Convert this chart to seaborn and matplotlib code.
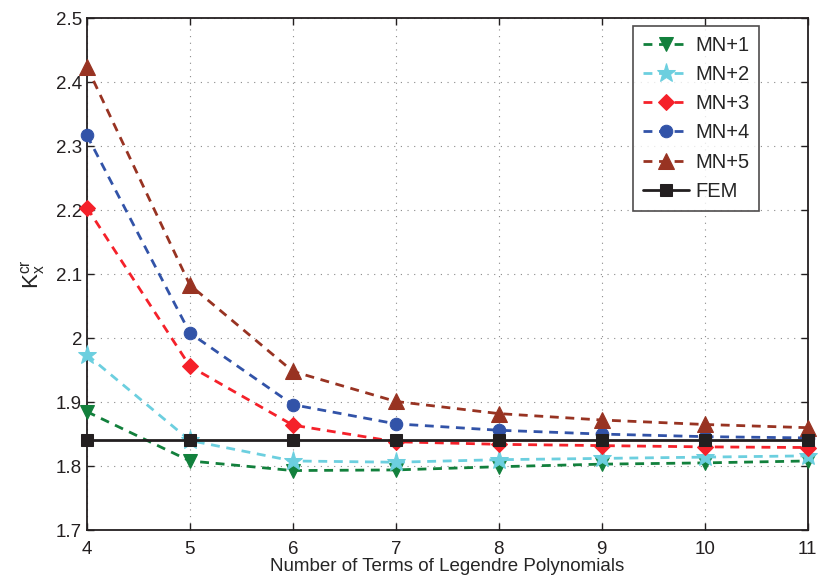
import numpy as np
import pandas as pd
import seaborn as sns
import matplotlib.pyplot as plt

terms = [4, 5, 6, 7, 8, 9, 10, 11]
mn1 = [1.885, 1.808, 1.793, 1.794, 1.799, 1.803, 1.805, 1.808]
mn2 = [1.974, 1.840, 1.808, 1.806, 1.810, 1.812, 1.814, 1.816]
mn3 = [2.204, 1.956, 1.864, 1.838, 1.834, 1.832, 1.830, 1.829]
mn4 = [2.317, 2.008, 1.896, 1.866, 1.856, 1.850, 1.846, 1.844]
mn5 = [2.424, 2.083, 1.948, 1.901, 1.882, 1.872, 1.865, 1.860]
fem = [1.841] * 8

names = ["MN+1", "MN+2", "MN+3", "MN+4", "MN+5", "FEM"]
series = [mn1, mn2, mn3, mn4, mn5, fem]
colors = ["#12803c", "#6ccfdf", "#f5212a", "#3253a8", "#983322", "#231f20"]
markers = ["v", "*", "D", "o", "^", "s"]
msizes = [10, 14, 8, 9, 11, 9]

df = pd.concat([pd.DataFrame({"terms": terms, "K": s, "method": n})
                for n, s in zip(names, series)], ignore_index=True)

sns.set_style("white")
plt.rcParams["font.family"] = ["Liberation Sans", "DejaVu Sans"]

fig = plt.figure(figsize=(8.2, 5.87), dpi=100)
ax = fig.add_axes([0.106, 0.097, 0.879, 0.872])

for n, c, m, ms in zip(names, colors, markers, msizes):
    sub = df[df["method"] == n]
    dashed = n != "FEM"
    sns.lineplot(data=sub, x="terms", y="K", ax=ax, color=c, marker=m,
                 markersize=ms, markeredgecolor=c, linewidth=2,
                 linestyle="--" if dashed else "-", label=n, clip_on=False,
                 zorder=3)
    if dashed:
        ax.lines[-1].set_dashes((3.2, 2.4))

ax.set_xlim(4, 11)
ax.set_ylim(1.7, 2.5)
ax.set_xticks(terms)
ax.set_yticks(np.arange(1.7, 2.51, 0.1))
ax.set_yticklabels(["1.7", "1.8", "1.9", "2", "2.1", "2.2", "2.3", "2.4", "2.5"])
ax.grid(True, linestyle=(0, (1, 5)), color="#8a8a8a", linewidth=0.8)
ax.set_axisbelow(True)
for sp in ax.spines.values():
    sp.set_color("#231f20")
    sp.set_linewidth(1.3)
    sp.set_zorder(2)
ax.tick_params(direction="in", length=5, width=1, labelsize=13.5,
               colors="#231f20", top=True, right=True, bottom=True, left=True)
ax.tick_params(axis="x", pad=8)
ax.set_xlabel("Number of Terms of Legendre Polynomials", fontsize=13.5, labelpad=0)
ax.set_ylabel(r"$\mathregular{K_x^{cr}}$", fontsize=16, labelpad=6)

leg = ax.legend(loc="upper right", bbox_to_anchor=(0.947, 1.004), fontsize=14.5,
                frameon=True, fancybox=False, handlelength=2.3,
                borderpad=0.5, labelspacing=0.5, handletextpad=0.3)
leg.get_frame().set_edgecolor("#231f20")
leg.get_frame().set_linewidth(1.2)
leg.set_zorder(5)

fig.savefig("out.png", dpi=100)
